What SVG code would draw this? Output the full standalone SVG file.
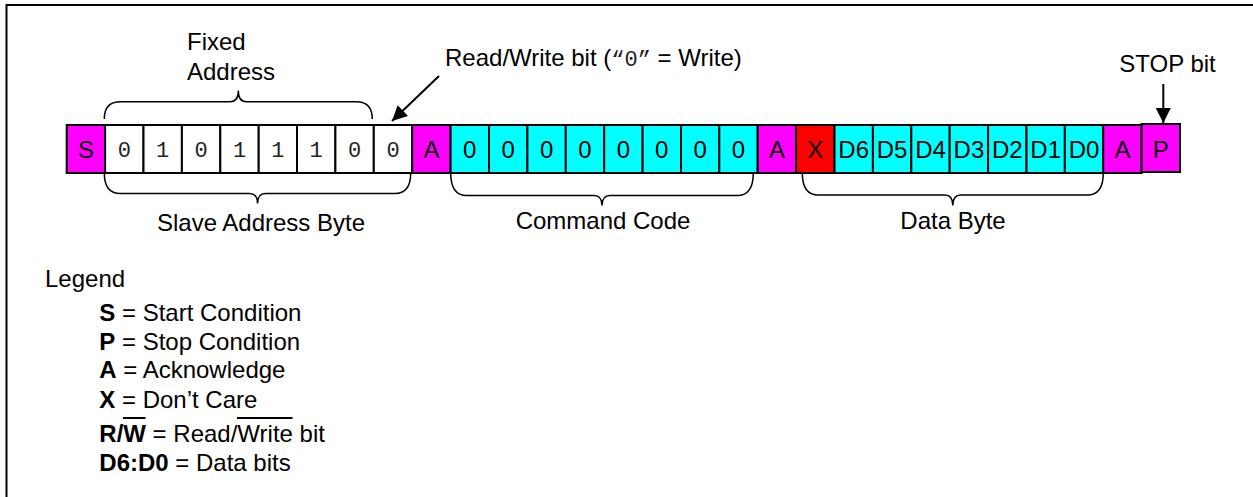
<svg xmlns="http://www.w3.org/2000/svg" width="1253" height="497" viewBox="0 0 1253 497">
<style>
text{font-family:"Liberation Sans",Arial,sans-serif;font-size:24px;fill:#000}
.c{text-anchor:middle}
.m{font-family:"Liberation Mono","Courier New",monospace;font-size:22px;fill:#222}
.b{font-weight:bold}
.box{stroke:#000;stroke-width:2}
.mg{fill:#ff00ff}.cy{fill:#00ffff}.rd{fill:#ff0000}.wh{fill:#fff}
.br{fill:none;stroke:#000;stroke-width:1.5}
.ln{stroke:#000;stroke-width:2;fill:none}
</style>
<defs>
<marker id="ah" viewBox="0 0 10 10" refX="10" refY="5" markerWidth="8" markerHeight="8" markerUnits="userSpaceOnUse" orient="auto">
<path d="M0,0 L10,5 L0,10 z" fill="#000"/>
</marker>
<marker id="ah2" viewBox="0 0 10 10" refX="10" refY="5" markerWidth="7.5" markerHeight="7.5" orient="auto">
<path d="M0,0 L10,5 L0,10 z" fill="#000"/>
</marker>
</defs>
<rect width="1253" height="497" fill="#fff"/>
<path class="ln" d="M6.5,497 V5 H1253"/>

<g id="frame">
<g id="S"><rect class="box mg" x="66.7" y="125" width="38.4" height="48"/><text class="c" x="85.9" y="158">S</text></g>
<g id="addr">
<rect class="box wh" x="105.1" y="125" width="38.4" height="48"/><text class="m c" x="124.3" y="157">0</text>
<rect class="box wh" x="143.5" y="125" width="38.4" height="48"/><text class="m c" x="162.7" y="157">1</text>
<rect class="box wh" x="181.9" y="125" width="38.4" height="48"/><text class="m c" x="201.1" y="157">0</text>
<rect class="box wh" x="220.3" y="125" width="38.4" height="48"/><text class="m c" x="239.5" y="157">1</text>
<rect class="box wh" x="258.7" y="125" width="38.4" height="48"/><text class="m c" x="277.9" y="157">1</text>
<rect class="box wh" x="297.0" y="125" width="38.4" height="48"/><text class="m c" x="316.2" y="157">1</text>
<rect class="box wh" x="335.4" y="125" width="38.4" height="48"/><text class="m c" x="354.6" y="157">0</text>
<rect class="box wh" x="373.8" y="125" width="38.4" height="48"/><text class="m c" x="393.0" y="157">0</text>
</g>
<g id="A1"><rect class="box mg" x="412.2" y="125" width="38.4" height="48"/><text class="c" x="431.4" y="158">A</text></g>
<g id="cmd">
<rect class="box cy" x="450.6" y="125" width="38.4" height="48"/><text class="c" x="469.8" y="158">0</text>
<rect class="box cy" x="489.0" y="125" width="38.4" height="48"/><text class="c" x="508.2" y="158">0</text>
<rect class="box cy" x="527.4" y="125" width="38.4" height="48"/><text class="c" x="546.6" y="158">0</text>
<rect class="box cy" x="565.8" y="125" width="38.4" height="48"/><text class="c" x="585.0" y="158">0</text>
<rect class="box cy" x="604.2" y="125" width="38.4" height="48"/><text class="c" x="623.4" y="158">0</text>
<rect class="box cy" x="642.6" y="125" width="38.4" height="48"/><text class="c" x="661.8" y="158">0</text>
<rect class="box cy" x="681.0" y="125" width="38.4" height="48"/><text class="c" x="700.2" y="158">0</text>
<rect class="box cy" x="719.3" y="125" width="38.4" height="48"/><text class="c" x="738.5" y="158">0</text>
</g>
<g id="A2"><rect class="box mg" x="757.7" y="125" width="38.4" height="48"/><text class="c" x="776.9" y="158">A</text></g>
<g id="X"><rect class="box rd" x="796.1" y="125" width="38.4" height="48"/><text class="c" x="815.3" y="158">X</text></g>
<g id="data">
<rect class="box cy" x="834.5" y="125" width="38.4" height="48"/><text class="c" x="853.7" y="158">D6</text>
<rect class="box cy" x="872.9" y="125" width="38.4" height="48"/><text class="c" x="892.1" y="158">D5</text>
<rect class="box cy" x="911.3" y="125" width="38.4" height="48"/><text class="c" x="930.5" y="158">D4</text>
<rect class="box cy" x="949.7" y="125" width="38.4" height="48"/><text class="c" x="968.9" y="158">D3</text>
<rect class="box cy" x="988.1" y="125" width="38.4" height="48"/><text class="c" x="1007.3" y="158">D2</text>
<rect class="box cy" x="1026.5" y="125" width="38.4" height="48"/><text class="c" x="1045.7" y="158">D1</text>
<rect class="box cy" x="1064.8" y="125" width="38.4" height="48"/><text class="c" x="1084.0" y="158">D0</text>
</g>
<g id="A3"><rect class="box mg" x="1103.2" y="125" width="38.4" height="48"/><text class="c" x="1122.4" y="158">A</text></g>
<g id="P"><rect class="box mg" x="1141.6" y="124" width="38.4" height="48"/><text class="c" x="1160.8" y="158">P</text></g>
</g>

<g id="labels">
<text x="187" y="50">Fixed</text>
<text x="187" y="80">Address</text>
<text x="445" y="66">Read/Write bit (<tspan class="m" font-size="22">“0”</tspan> = Write)</text>
<text class="c" x="1167.5" y="72">STOP bit</text>
<text class="c" x="261" y="231">Slave Address Byte</text>
<text class="c" x="603" y="229">Command Code</text>
<text class="c" x="953" y="229">Data Byte</text>
</g>

<g id="connectors">
<path class="br" d="M104.3,119 Q104.3,101.7 120.3,101.7 H230.3 Q238.3,101.7 238.3,90.7 Q238.3,101.7 246.3,101.7 H356.3 Q372.3,101.7 372.3,119"/>
<path class="br" d="M104.3,173 Q104.3,193.5 120.3,193.5 H249.5 Q257.5,193.5 257.5,203.5 Q257.5,193.5 265.5,193.5 H394.7 Q410.7,193.5 410.7,173"/>
<path class="br" d="M450.7,173 Q450.7,195.5 466.7,195.5 H594 Q602,195.5 602,205.5 Q602,195.5 610,195.5 H737.3 Q753.3,195.5 753.3,173"/>
<path class="br" d="M802.3,173 Q802.3,195 818.3,195 H944.8 Q952.8,195 952.8,205.5 Q952.8,195 960.8,195 H1087.3 Q1103.3,195 1103.3,173"/>
<line class="ln" x1="439" y1="76" x2="392" y2="121" marker-end="url(#ah2)"/>
<line class="ln" x1="1163.3" y1="84" x2="1163.3" y2="123" marker-end="url(#ah2)"/>
</g>

<g id="legend">
<text x="45" y="287">Legend</text>
<text x="99.3" y="321"><tspan class="b">S</tspan> = Start Condition</text>
<text x="99.3" y="350"><tspan class="b">P</tspan> = Stop Condition</text>
<text x="99.3" y="378"><tspan class="b">A</tspan> = Acknowledge</text>
<text x="99.3" y="408"><tspan class="b">X</tspan> = Don’t Care</text>
<text x="99.3" y="442"><tspan class="b">R/W</tspan> = Read/Write bit</text>
<line class="ln" x1="123" y1="418" x2="145.5" y2="418"/>
<line class="ln" x1="237" y1="418" x2="292.5" y2="418"/>
<text x="99.3" y="471"><tspan class="b">D6:D0</tspan> = Data bits</text>
</g>
</svg>
